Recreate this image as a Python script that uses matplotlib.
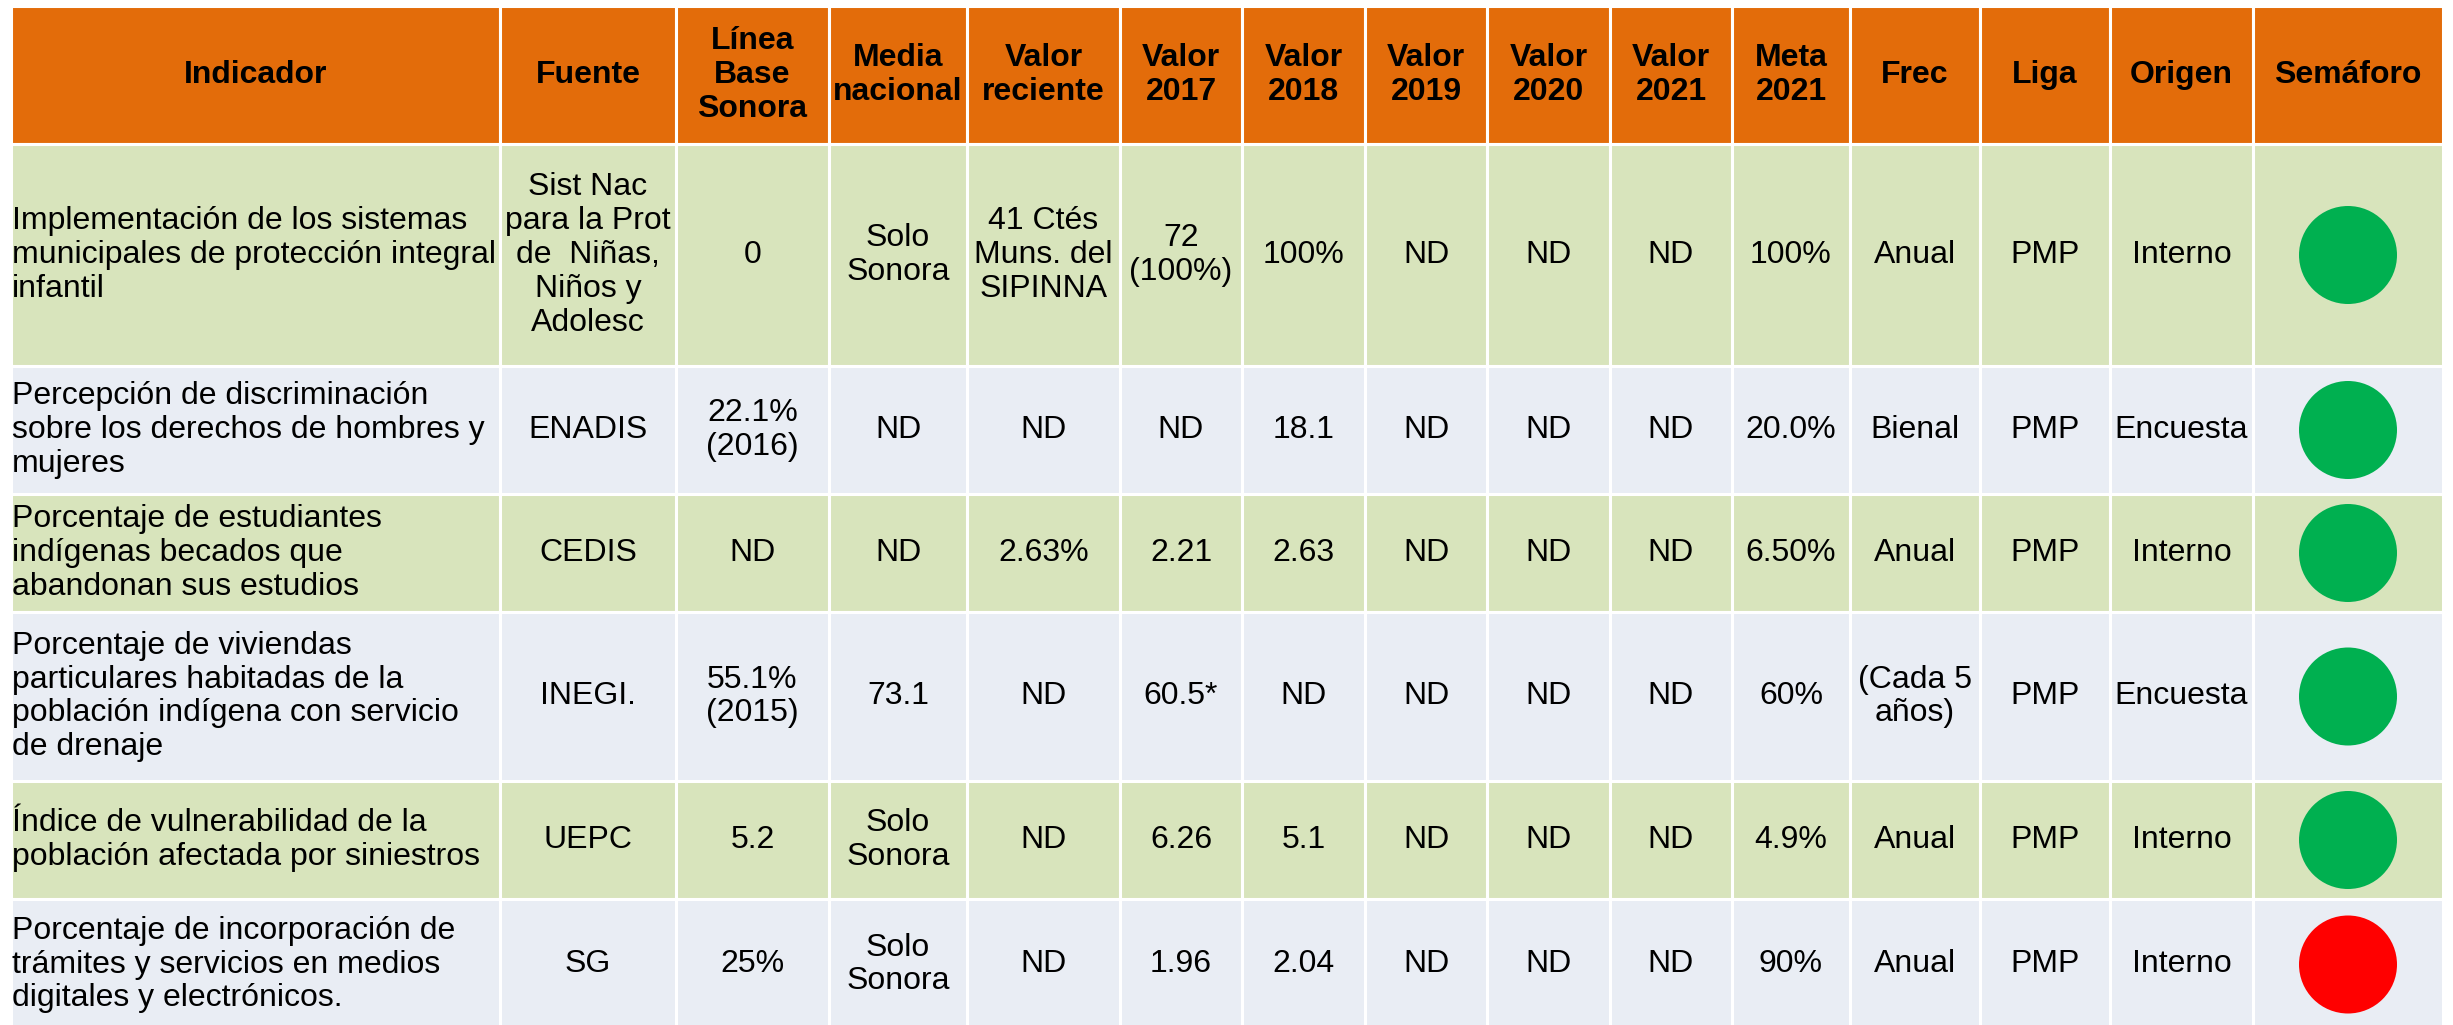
import matplotlib.pyplot as plt
from matplotlib.patches import Rectangle, Circle

plt.rcParams['font.family'] = ['Liberation Sans', 'DejaVu Sans']

# ---- data ----
headers = ["Indicador", "Fuente", "Línea\nBase\nSonora", "Media\nnacional", "Valor\nreciente",
           "Valor\n2017", "Valor\n2018", "Valor\n2019", "Valor\n2020", "Valor\n2021",
           "Meta\n2021", "Frec", "Liga", "Origen", "Semáforo"]

indicador = [
    "Implementación de los sistemas\nmunicipales de protección integral\ninfantil",
    "Percepción de discriminación\nsobre los derechos de hombres y\nmujeres",
    "Porcentaje de estudiantes\nindígenas becados que\nabandonan sus estudios",
    "Porcentaje de viviendas\nparticulares habitadas de la\npoblación indígena con servicio\nde drenaje",
    "Índice de vulnerabilidad de la\npoblación afectada por siniestros",
    "Porcentaje de incorporación de\ntrámites y servicios en medios\ndigitales y electrónicos.",
]
fuente = ["Sist Nac\npara la Prot\nde  Niñas,\nNiños y\nAdolesc", "ENADIS", "CEDIS", "INEGI.", "UEPC", "SG"]
linea_base = ["0", "22.1%\n(2016)", "ND", "55.1%\n(2015)", "5.2", "25%"]
media_nacional = ["Solo\nSonora", "ND", "ND", "73.1", "Solo\nSonora", "Solo\nSonora"]
valor_reciente = ["41 Ctés\nMuns. del\nSIPINNA", "ND", "2.63%", "ND", "ND", "ND"]
valor_2017 = ["72\n(100%)", "ND", "2.21", "60.5*", "6.26", "1.96"]
valor_2018 = ["100%", "18.1", "2.63", "ND", "5.1", "2.04"]
valor_2019 = ["ND", "ND", "ND", "ND", "ND", "ND"]
valor_2020 = ["ND", "ND", "ND", "ND", "ND", "ND"]
valor_2021 = ["ND", "ND", "ND", "ND", "ND", "ND"]
meta_2021 = ["100%", "20.0%", "6.50%", "60%", "4.9%", "90%"]
frec = ["Anual", "Bienal", "Anual", "(Cada 5\naños)", "Anual", "Anual"]
liga = ["PMP", "PMP", "PMP", "PMP", "PMP", "PMP"]
origen = ["Interno", "Encuesta", "Interno", "Encuesta", "Interno", "Interno"]
semaforo = ["verde", "verde", "verde", "verde", "verde", "rojo"]

columns = [indicador, fuente, linea_base, media_nacional, valor_reciente, valor_2017,
           valor_2018, valor_2019, valor_2020, valor_2021, meta_2021, frec, liga, origen]

# ---- layout (pixels) ----
col_edges = [11, 500, 676, 829, 967, 1120, 1242, 1365, 1487, 1610, 1732, 1850, 1980, 2110, 2253, 2443]
row_edges = [6, 144, 366, 494, 612, 781, 899, 1030]

header_color = "#E36C0A"
row_colors = ["#D8E4BC", "#E9EDF4"]
light_colors = {"verde": "#00B050", "rojo": "#FF0000"}

W, H = 2453, 1025
fig = plt.figure(figsize=(W / 100, H / 100), dpi=100)
ax = fig.add_axes([0, 0, 1, 1])
ax.set_xlim(0, W)
ax.set_ylim(H, 0)
ax.axis('off')

fs = 23
ls = 1.17

# header
for j, h in enumerate(headers):
    x0, x1 = col_edges[j], col_edges[j + 1]
    y0, y1 = row_edges[0], row_edges[1]
    ax.add_patch(Rectangle((x0, y0), x1 - x0, y1 - y0, facecolor=header_color,
                           edgecolor='white', linewidth=2.2))
    ax.text((x0 + x1) / 2, (y0 + y1) / 2, h, ha='center', va='center', fontsize=fs,
            fontweight='bold', linespacing=ls)

# body
for i in range(len(indicador)):
    y0, y1 = row_edges[i + 1], row_edges[i + 2]
    ym = (y0 + y1) / 2
    bg = row_colors[i % 2]
    for j in range(len(headers)):
        x0, x1 = col_edges[j], col_edges[j + 1]
        ax.add_patch(Rectangle((x0, y0), x1 - x0, y1 - y0, facecolor=bg,
                               edgecolor='white', linewidth=2.2))
    for j, col in enumerate(columns):
        x0, x1 = col_edges[j], col_edges[j + 1]
        if j == 0:
            ax.text(x0 + 1, ym, col[i], ha='left', va='center', fontsize=fs, linespacing=ls)
        else:
            ax.text((x0 + x1) / 2, ym, col[i], ha='center', va='center', fontsize=fs,
                    linespacing=ls)
    xs = (col_edges[-2] + col_edges[-1]) / 2
    ax.add_patch(Circle((xs, ym), 49, facecolor=light_colors[semaforo[i]], edgecolor='none'))

fig.savefig("out.png", dpi=100)
